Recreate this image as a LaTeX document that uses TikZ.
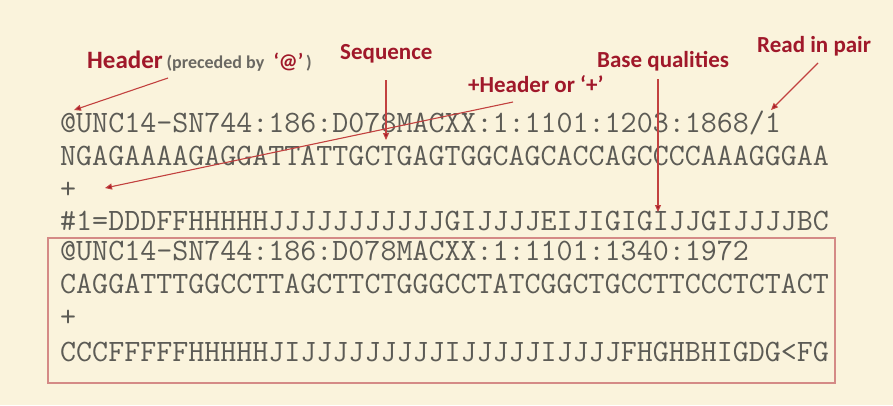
\documentclass[tikz,border=0pt]{standalone}
\usepackage{fontspec}
\usepackage{xcolor}
\usetikzlibrary{arrows.meta}
\newfontfamily\lblfont{Carlito}

\definecolor{paper}{HTML}{FAF3DC}
\definecolor{seqgray}{HTML}{5C5B55}
\definecolor{lblred}{HTML}{A0182A}
\definecolor{arrred}{HTML}{C2413F}
\definecolor{boxred}{HTML}{D48A86}
\definecolor{notegray}{HTML}{6A6862}

\tikzset{
  seq/.style={anchor=base west, inner sep=0pt, text=seqgray,
    text height=18pt, text depth=1pt,
    font=\ttfamily\fontsize{31.1}{33}\selectfont},
  lbl/.style={anchor=base west, inner sep=0pt, text=lblred,
    font=\lblfont\bfseries\fontsize{23}{26}\selectfont},
  pointer/.style={draw=arrred, line width=1.1pt,
    -{Triangle[length=7pt, width=6pt, fill=lblred]}}
}

\begin{document}
\begin{tikzpicture}[x=1pt, y=-1pt]

  \fill[paper] (0, 0) rectangle (893, 405);
  \useasboundingbox (0, 0) rectangle (893, 405);

  % first read
  \node[seq] (h1) at (60, 132) {@UNC14-SN744:186:D078MACXX:1:1101:1203:1868/1};
  \node[seq] (s1) at (60, 165) {NGAGAAAAGAGGATTATTGCTGAGTGGCAGCACCAGCCCCAAAGGGAA};
  \node[seq] (p1) at (60, 198) {+};
  \node[seq] (q1) at (60, 230) {\#1=DDDFFHHHHHJJJJJJJJJJJGIJJJJEIJIGIGIJJGIJJJJBC};

  % second read, boxed
  \draw[boxred, line width=1.4pt] (48, 238) rectangle (835, 383);
  \node[seq] (h2) at (60, 260) {@UNC14-SN744:186:D078MACXX:1:1101:1340:1972};
  \node[seq] (s2) at (60, 293) {CAGGATTTGGCCTTAGCTTCTGGGCCTATCGGCTGCCTTCCCTCTACT};
  \node[seq] (p2) at (60, 326) {+};
  \node[seq] (q2) at (60, 361) {CCCFFFFFHHHHHJIJJJJJJJJJIJJJJJIJJJJFHGHBHIGDG<FG};

  % labels
  \node[lbl] (header) at (87, 68) {{\fontsize{25}{27}\selectfont Header}\,{\color{notegray}\fontsize{18}{20}\selectfont(preceded by }
    {\fontsize{21}{23}\selectfont‘@’}{\color{notegray}\fontsize{18}{20}\selectfont\,)}};
  \node[lbl] (sequence) at (340, 59) {Sequence};
  \node[lbl] (plushdr) at (468, 92) {+Header or ‘+’};
  \node[lbl] (basequal) at (597, 67) {Base qualities};
  \node[lbl] (readpair) at (757, 52) {Read in pair};

  % arrow ends
  \coordinate (hdrfrom) at (168, 78);
  \coordinate (hdrto) at (74, 110);
  \coordinate (seqfrom) at (386, 80);
  \coordinate (seqto) at (386, 140);
  \coordinate (plusfrom) at (513, 102);
  \coordinate (plusto) at (105, 188);
  \coordinate (qualfrom) at (658, 79);
  \coordinate (qualto) at (658, 212);
  \coordinate (pairfrom) at (818, 63);
  \coordinate (pairto) at (771, 110);

  \draw[pointer] (hdrfrom) -- (hdrto);
  \draw[pointer] (seqfrom) -- (seqto);
  \draw[pointer] (plusfrom) -- (plusto);
  \draw[pointer] (qualfrom) -- (qualto);
  \draw[pointer] (pairfrom) -- (pairto);
\end{tikzpicture}
\end{document}
